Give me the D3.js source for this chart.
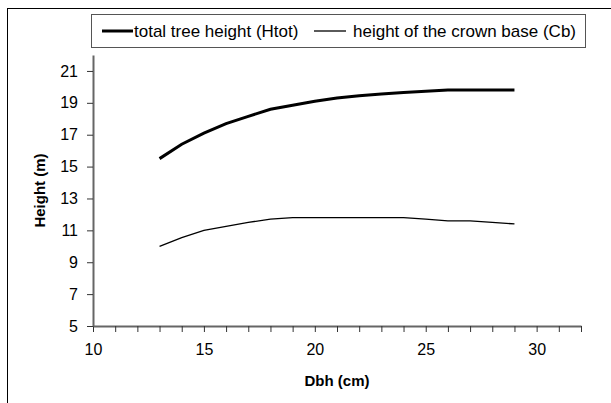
<!DOCTYPE html>
<html>
<head>
<meta charset="utf-8">
<script src="https://cdn.jsdelivr.net/npm/d3@7"></script>
<style>
	body { margin: 0; background: #fff; }
	svg { font-family: Arial, "Liberation Sans", sans-serif; }
	.tick text { font-size: 16px; fill: #000; }
	.axis-title { font-size: 15px; font-weight: bold; }
</style>
</head>
<body>
<div class="chart"></div>
<script>
// data
var dbh = [13, 14, 15, 16, 17, 18, 19, 20, 21, 22, 23, 24, 25, 26, 27, 28, 29];
var htot = [15.5, 16.4, 17.1, 17.7, 18.15, 18.6, 18.85, 19.1, 19.3, 19.45, 19.55, 19.65, 19.72, 19.8, 19.8, 19.8, 19.8];
var cb = [10.0, 10.55, 11.0, 11.25, 11.5, 11.7, 11.8, 11.8, 11.8, 11.8, 11.8, 11.8, 11.7, 11.6, 11.6, 11.5, 11.4];
var seriesNames = ['total tree height (Htot)', 'height of the crown base (Cb)'];
var xTicks = [10, 15, 20, 25, 30];
var yTicks = [5, 7, 9, 11, 13, 15, 17, 19, 21];

var svgWidth = 611;
var svgHeight = 403;

var margin = { top: 55, bottom: 77, right: 30, left: 93 };
var width = svgWidth - margin.left - margin.right;
var height = svgHeight - margin.top - margin.bottom;

var svg = d3.select('.chart')
	.append('svg')
	.attr('width', svgWidth)
	.attr('height', svgHeight);

// outer frame (runs off the right and bottom)
svg.append('rect')
	.attr('x', 7.5)
	.attr('y', 8.5)
	.attr('width', 700)
	.attr('height', 500)
	.attr('fill', 'none')
	.attr('stroke', '#000');

var chart = svg.append('g')
	.attr('transform', `translate(${margin.left}, ${margin.top})`);

var x = d3.scaleLinear().domain([10, 32]).range([0, width]);
var y = d3.scaleLinear().domain([5, 22]).range([height, 0]);

// x axis: minor ticks every 1, labels every 5
var xAxis = chart.append('g')
	.attr('transform', `translate(0, ${height})`)
	.call(d3.axisBottom(x)
		.tickValues(d3.range(10, 33))
		.tickSize(6)
		.tickSizeOuter(0)
		.tickFormat(function(d) { return xTicks.indexOf(d) >= 0 ? d : ''; }));
xAxis.selectAll('.tick text').attr('dy', '1.25em');

var yAxis = chart.append('g')
	.call(d3.axisLeft(y)
		.tickValues(yTicks)
		.tickSize(6)
		.tickSizeOuter(0));
yAxis.selectAll('.tick text').attr('x', -15);

chart.selectAll('.domain').attr('stroke', '#666').attr('stroke-width', 2);
chart.selectAll('.tick line').attr('stroke', '#333');

var line = d3.line()
	.x(function(d) { return x(d[0]); })
	.y(function(d) { return y(d[1]); });

chart.append('path')
	.datum(d3.zip(dbh, htot))
	.attr('d', line)
	.attr('fill', 'none')
	.attr('stroke', '#000')
	.attr('stroke-width', 3);

chart.append('path')
	.datum(d3.zip(dbh, cb))
	.attr('d', line)
	.attr('fill', 'none')
	.attr('stroke', '#000')
	.attr('stroke-width', 1.3);

// axis titles
chart.append('text')
	.attr('class', 'axis-title')
	.attr('text-anchor', 'middle')
	.attr('x', width / 2)
	.attr('y', height + 60)
	.text('Dbh (cm)');

chart.append('text')
	.attr('class', 'axis-title')
	.attr('text-anchor', 'middle')
	.attr('transform', `translate(${-48}, ${height / 2}) rotate(-90)`)
	.text('Height (m)');

// legend
var legend = svg.append('g');
legend.append('rect')
	.attr('x', 91.5)
	.attr('y', 14.5)
	.attr('width', 494)
	.attr('height', 33)
	.attr('fill', '#fff')
	.attr('stroke', '#555');

var legendItems = [
	{ name: seriesNames[0], x0: 102, x1: 133, w: 3 },
	{ name: seriesNames[1], x0: 314, x1: 346, w: 1.3 }
];
legendItems.forEach(function(item) {
	legend.append('line')
		.attr('x1', item.x0)
		.attr('x2', item.x1)
		.attr('y1', 31)
		.attr('y2', 31)
		.attr('stroke', '#000')
		.attr('stroke-width', item.w);
	legend.append('text')
		.attr('x', item.x1 + (item.w > 2 ? 1 : 7))
		.attr('y', 37)
		.style('font-size', '17px')
		.text(item.name);
});
</script>
</body>
</html>
